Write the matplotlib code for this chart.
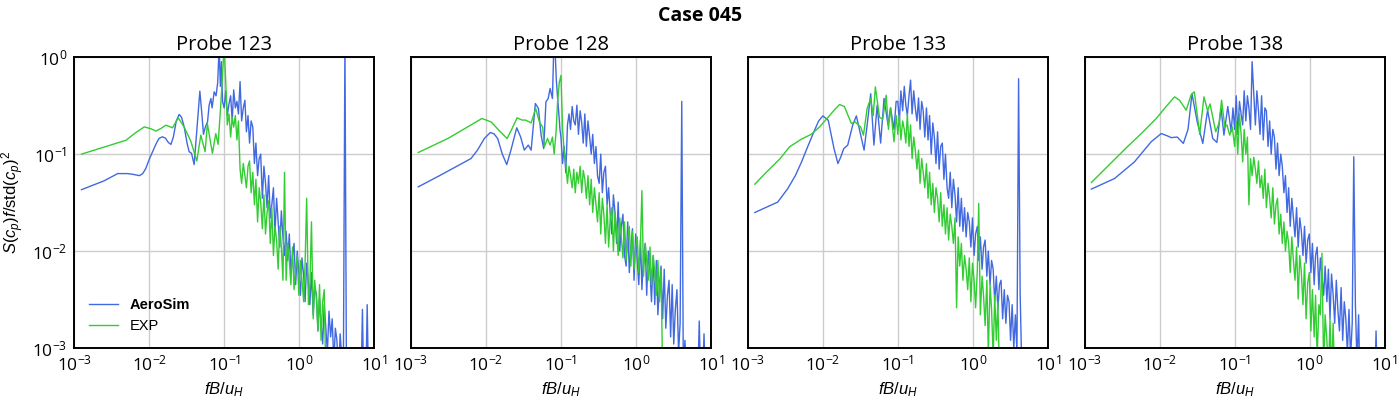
import matplotlib
matplotlib.use('Agg')
import matplotlib.pyplot as plt
from matplotlib.ticker import LogLocator, NullLocator

plt.rcParams['font.family'] = ['Open Sans', 'DejaVu Sans']
plt.rcParams['mathtext.default'] = 'regular'
plt.rcParams['mathtext.fontset'] = 'custom'
plt.rcParams['mathtext.rm'] = 'Liberation Sans'
plt.rcParams['mathtext.it'] = 'Liberation Sans:italic'
plt.rcParams['mathtext.bf'] = 'Liberation Sans:bold'

probes = ['Probe 123', 'Probe 128', 'Probe 133', 'Probe 138']

# shared frequency grid for the noisy (high frequency) part
f_hi = [0.100, 0.105, 0.110, 0.116, 0.122, 0.128, 0.134, 0.141, 0.148, 0.155,
        0.163, 0.171, 0.180, 0.189, 0.198, 0.208, 0.218, 0.229, 0.241, 0.253,
        0.265, 0.279, 0.293, 0.307, 0.323, 0.339, 0.356, 0.373, 0.392, 0.412,
        0.432, 0.454, 0.476, 0.500, 0.525, 0.551, 0.579, 0.608, 0.638, 0.670,
        0.704, 0.739, 0.776, 0.815, 0.855, 0.898, 0.943, 0.990, 1.04, 1.09,
        1.15, 1.20, 1.26, 1.33, 1.39, 1.46, 1.54, 1.61, 1.70, 1.78,
        1.87, 1.96, 2.06, 2.16, 2.27, 2.38, 2.50, 2.63, 2.76, 2.90,
        3.04, 3.19, 3.35, 3.52, 3.70, 3.88, 4.08, 4.28, 4.50, 4.72,
        4.96, 5.20, 5.46, 5.74, 6.02, 6.33, 6.64, 6.98, 7.32, 7.69,
        8.08, 8.48]

# ---- Probe 123
f_sim_123 = [0.00125, 0.0025, 0.0038, 0.0051, 0.006, 0.0074, 0.0082, 0.009, 0.010, 0.0111,
             0.0125, 0.0135, 0.015, 0.0165, 0.018, 0.0195, 0.021, 0.023, 0.0251, 0.027,
             0.0293, 0.032, 0.0341, 0.0367, 0.0398, 0.0474, 0.050, 0.053, 0.056, 0.060,
             0.063, 0.0665, 0.069, 0.0736, 0.078, 0.082, 0.0857, 0.089, 0.092, 0.095]
s_sim_123 = [0.043, 0.053, 0.063, 0.063, 0.062, 0.060, 0.063, 0.071, 0.088, 0.106,
             0.13, 0.145, 0.151, 0.146, 0.132, 0.126, 0.15, 0.22, 0.257, 0.24,
             0.191, 0.13, 0.106, 0.102, 0.078, 0.446, 0.28, 0.16, 0.19, 0.215,
             0.32, 0.375, 0.30, 0.44, 0.40, 0.55, 1.3, 0.5, 0.9, 0.35]
s_sim_hi_123 = [0.30, 0.45, 0.25, 0.33, 0.40, 0.22, 0.46, 0.30, 0.35, 0.26, 0.56, 0.22, 0.30, 0.36, 0.17, 0.25, 0.13, 0.22, 0.19, 0.08,
                0.13, 0.06, 0.09, 0.10, 0.035, 0.075, 0.05, 0.028, 0.060, 0.022, 0.030, 0.045, 0.015, 0.035, 0.020, 0.011, 0.026, 0.014, 0.009, 0.016,
                0.008, 0.015, 0.006, 0.009, 0.012, 0.0045, 0.010, 0.006, 0.0035, 0.0085, 0.0055, 0.003, 0.0075, 0.0045, 0.0028, 0.006, 0.0022, 0.0042, 0.0036, 0.0015,
                0.0032, 0.0018, 0.0011, 0.0028, 0.0016, 0.0009, 0.0024, 0.0013, 0.0020, 0.0007, 0.0016, 0.0012, 0.0005, 0.0014, 0.0008, 0.0004, 1.5, 0.0004, 0.0009, 0.0003,
                0.0003, 0.0003, 0.0003, 0.0003, 0.0003, 0.0003, 0.0003, 0.0025, 0.0003, 0.0003, 0.0028, 0.0003]
f_exp_123 = [0.00125, 0.0049, 0.0065, 0.0086, 0.0105, 0.0123, 0.0145, 0.0167, 0.0205, 0.0244,
             0.0293, 0.0359, 0.0432, 0.0488, 0.0557, 0.0597, 0.0697, 0.0773, 0.083, 0.090]
s_exp_123 = [0.10, 0.139, 0.165, 0.191, 0.183, 0.173, 0.185, 0.199, 0.187, 0.237,
             0.19, 0.136, 0.085, 0.157, 0.106, 0.207, 0.102, 0.163, 0.126, 0.32]
s_exp_hi_123 = [1.3, 0.55, 0.20, 0.26, 0.15, 0.24, 0.19, 0.25, 0.14, 0.22, 0.07, 0.05, 0.08, 0.06, 0.045, 0.075, 0.085, 0.04, 0.065, 0.03,
                0.055, 0.02, 0.045, 0.032, 0.017, 0.038, 0.015, 0.025, 0.033, 0.012, 0.028, 0.009, 0.018, 0.013, 0.0065, 0.018, 0.011, 0.005, 0.065, 0.005,
                0.012, 0.008, 0.0045, 0.011, 0.004, 0.0065, 0.009, 0.0035, 0.008, 0.005, 0.003, 0.0075, 0.035, 0.0028, 0.0045, 0.02, 0.002, 0.005, 0.0032, 0.0015,
                0.0045, 0.0012, 0.003, 0.004, 0.0005]

# ---- Probe 128
f_sim_128 = [0.00125, 0.0025, 0.0063, 0.0077, 0.0095, 0.0114, 0.0128, 0.0143, 0.0165, 0.0189,
             0.0215, 0.0257, 0.029, 0.0324, 0.0366, 0.040, 0.0455, 0.050, 0.0543, 0.0588,
             0.063, 0.0675, 0.0716, 0.0769, 0.080, 0.083, 0.0865, 0.0899, 0.094, 0.097]
s_sim_128 = [0.046, 0.061, 0.090, 0.11, 0.145, 0.167, 0.162, 0.145, 0.10, 0.078,
             0.11, 0.187, 0.15, 0.11, 0.124, 0.11, 0.333, 0.296, 0.157, 0.114,
             0.346, 0.375, 0.476, 0.375, 1.2, 1.3, 0.6, 0.39, 0.25, 0.177]
s_sim_hi_128 = [0.15, 0.08, 0.12, 0.064, 0.20, 0.26, 0.18, 0.31, 0.22, 0.20, 0.32, 0.16, 0.28, 0.21, 0.13, 0.26, 0.12, 0.22, 0.15, 0.10,
                0.16, 0.08, 0.12, 0.06, 0.05, 0.10, 0.04, 0.065, 0.075, 0.03, 0.045, 0.024, 0.015, 0.038, 0.025, 0.012, 0.032, 0.010, 0.018, 0.024,
                0.009, 0.007, 0.020, 0.006, 0.011, 0.017, 0.005, 0.015, 0.008, 0.0045, 0.013, 0.004, 0.009, 0.012, 0.0035, 0.010, 0.006, 0.003, 0.009, 0.0028,
                0.008, 0.0022, 0.0045, 0.007, 0.002, 0.0065, 0.0016, 0.0035, 0.005, 0.0013, 0.0045, 0.0011, 0.0025, 0.004, 0.0009, 0.0018, 0.35, 0.0006, 0.0012, 0.0005,
                0.0004, 0.0004, 0.0004, 0.0004, 0.0004, 0.0004, 0.0004, 0.0019, 0.0004, 0.0004, 0.0014, 0.0004]
f_exp_128 = [0.00125, 0.0031, 0.0057, 0.0088, 0.0117, 0.015, 0.0191, 0.022, 0.026, 0.030,
             0.034, 0.040, 0.046, 0.0515, 0.057, 0.060, 0.066, 0.0716, 0.077, 0.081,
             0.086, 0.090, 0.095]
s_exp_128 = [0.104, 0.145, 0.191, 0.233, 0.215, 0.175, 0.145, 0.18, 0.237, 0.225,
             0.224, 0.21, 0.296, 0.215, 0.19, 0.119, 0.145, 0.124, 0.15, 0.10,
             0.17, 0.346, 0.55]
s_exp_hi_128 = [0.65, 0.18, 0.11, 0.08, 0.05, 0.075, 0.06, 0.045, 0.07, 0.04, 0.065, 0.05, 0.075, 0.04, 0.068, 0.055, 0.035, 0.06, 0.03, 0.055,
                0.025, 0.045, 0.03, 0.02, 0.04, 0.015, 0.035, 0.024, 0.012, 0.03, 0.011, 0.022, 0.028, 0.01, 0.025, 0.016, 0.009, 0.022, 0.014, 0.0085,
                0.02, 0.008, 0.013, 0.018, 0.007, 0.016, 0.0065, 0.011, 0.014, 0.006, 0.013, 0.042, 0.0055, 0.012, 0.008, 0.005, 0.011, 0.0045, 0.009, 0.006,
                0.0035, 0.008, 0.003, 0.0065, 0.0005]

# ---- Probe 133
f_sim_133 = [0.00124, 0.0025, 0.0034, 0.0043, 0.0052, 0.0063, 0.0076, 0.0088, 0.010, 0.0118,
             0.0141, 0.0159, 0.0175, 0.019, 0.0215, 0.025, 0.028, 0.032, 0.0355, 0.039,
             0.0435, 0.048, 0.053, 0.059, 0.0655, 0.069, 0.074, 0.080, 0.089, 0.095]
s_sim_133 = [0.025, 0.032, 0.044, 0.060, 0.083, 0.12, 0.17, 0.22, 0.248, 0.224,
             0.114, 0.08, 0.095, 0.114, 0.124, 0.199, 0.248, 0.157, 0.11, 0.20,
             0.42, 0.124, 0.32, 0.13, 0.375, 0.29, 0.20, 0.30, 0.18, 0.35]
s_sim_hi_133 = [0.35, 0.22, 0.45, 0.28, 0.50, 0.32, 0.25, 0.40, 0.58, 0.26, 0.45, 0.30, 0.22, 0.38, 0.18, 0.35, 0.28, 0.15, 0.30, 0.14,
                0.25, 0.10, 0.21, 0.15, 0.08, 0.17, 0.07, 0.12, 0.13, 0.055, 0.10, 0.045, 0.035, 0.065, 0.028, 0.055, 0.038, 0.02, 0.045, 0.018,
                0.035, 0.016, 0.028, 0.014, 0.025, 0.02, 0.011, 0.022, 0.009, 0.015, 0.018, 0.008, 0.014, 0.0065, 0.011, 0.013, 0.0055, 0.01, 0.0045, 0.008,
                0.0065, 0.003, 0.0055, 0.0025, 0.0045, 0.005, 0.002, 0.004, 0.0018, 0.0035, 0.003, 0.0012, 0.0028, 0.001, 0.0022, 0.0009, 0.6, 0.0037, 0.0006, 0.0003,
                0.0003, 0.0003, 0.0003, 0.0003, 0.0003, 0.0003, 0.0003, 0.0003, 0.0003, 0.0003, 0.0003, 0.0003]
f_exp_133 = [0.00124, 0.0018, 0.0027, 0.0036, 0.0052, 0.007, 0.009, 0.0123, 0.0145, 0.0167,
             0.0194, 0.024, 0.027, 0.032, 0.0348, 0.039, 0.0435, 0.047, 0.0502, 0.057,
             0.063, 0.07, 0.075, 0.08, 0.089, 0.095]
s_exp_133 = [0.049, 0.066, 0.090, 0.119, 0.143, 0.16, 0.19, 0.25, 0.29, 0.325,
             0.31, 0.207, 0.215, 0.19, 0.157, 0.296, 0.375, 0.25, 0.494, 0.24,
             0.23, 0.406, 0.18, 0.30, 0.134, 0.25]
s_exp_hi_133 = [0.16, 0.25, 0.14, 0.22, 0.18, 0.13, 0.26, 0.12, 0.20, 0.09, 0.15, 0.11, 0.07, 0.11, 0.05, 0.09, 0.065, 0.045, 0.08, 0.035,
                0.065, 0.03, 0.05, 0.025, 0.045, 0.035, 0.02, 0.04, 0.018, 0.03, 0.015, 0.028, 0.013, 0.024, 0.018, 0.012, 0.022, 0.0026, 0.014, 0.007,
                0.012, 0.005, 0.009, 0.0065, 0.004, 0.0085, 0.003, 0.0075, 0.005, 0.0026, 0.0065, 0.031, 0.0022, 0.0055, 0.0035, 0.0017, 0.005, 0.0009, 0.0045, 0.0025,
                0.0008, 0.0035, 0.0012, 0.003, 0.0005]

# ---- Probe 138
f_sim_138 = [0.00123, 0.0025, 0.0046, 0.0077, 0.0105, 0.0125, 0.0143, 0.0172, 0.0207, 0.0239,
             0.027, 0.0317, 0.0376, 0.0436, 0.051, 0.058, 0.066, 0.072, 0.081, 0.090, 0.095]
s_sim_138 = [0.0436, 0.056, 0.083, 0.134, 0.163, 0.155, 0.148, 0.15, 0.129, 0.18,
             0.42, 0.215, 0.129, 0.284, 0.145, 0.132, 0.296, 0.157, 0.31, 0.17, 0.30]
s_sim_hi_138 = [0.18, 0.40, 0.16, 0.35, 0.26, 0.20, 0.45, 0.22, 0.40, 0.30, 0.18, 0.90, 0.42, 0.20, 0.45, 0.28, 0.16, 0.40, 0.14, 0.30,
                0.28, 0.12, 0.22, 0.10, 0.18, 0.15, 0.07, 0.13, 0.06, 0.10, 0.075, 0.04, 0.06, 0.025, 0.045, 0.018, 0.035, 0.022, 0.014, 0.028,
                0.011, 0.022, 0.016, 0.009, 0.018, 0.0075, 0.013, 0.015, 0.006, 0.012, 0.0045, 0.009, 0.011, 0.004, 0.0085, 0.0055, 0.0035, 0.007, 0.003, 0.0065,
                0.002, 0.0058, 0.0035, 0.0018, 0.005, 0.0025, 0.0015, 0.0042, 0.0012, 0.003, 0.002, 0.0009, 0.0025, 0.0008, 0.0018, 0.094, 0.0028, 0.0007, 0.0022, 0.0003,
                0.0003, 0.0003, 0.0003, 0.0003, 0.0003, 0.0003, 0.0003, 0.0003, 0.0003, 0.0015, 0.0003, 0.0003]
f_exp_138 = [0.00123, 0.0021, 0.0037, 0.0057, 0.009, 0.0122, 0.0158, 0.0184, 0.0226, 0.0263,
             0.029, 0.0342, 0.039, 0.0436, 0.047, 0.056, 0.062, 0.067, 0.074, 0.079,
             0.086, 0.093]
s_exp_138 = [0.051, 0.077, 0.119, 0.163, 0.233, 0.31, 0.39, 0.36, 0.284, 0.41,
             0.44, 0.16, 0.39, 0.28, 0.33, 0.17, 0.21, 0.36, 0.19, 0.2,
             0.157, 0.19]
s_exp_hi_138 = [0.12, 0.22, 0.10, 0.26, 0.16, 0.083, 0.18, 0.10, 0.15, 0.03, 0.09, 0.06, 0.093, 0.07, 0.05, 0.085, 0.045, 0.06, 0.035, 0.07,
                0.028, 0.05, 0.035, 0.022, 0.045, 0.019, 0.03, 0.035, 0.015, 0.024, 0.012, 0.02, 0.01, 0.016, 0.012, 0.006, 0.014, 0.008, 0.005, 0.011,
                0.0032, 0.009, 0.006, 0.0028, 0.0075, 0.002, 0.0047, 0.006, 0.0015, 0.004, 0.0013, 0.0035, 0.0008, 0.0028, 0.0022, 0.0095, 0.0006, 0.0022, 0.0012, 0.0005,
                0.002, 0.0005, 0.0018, 0.0004, 0.0004]

sim_series = [(f_sim_123, s_sim_123, s_sim_hi_123), (f_sim_128, s_sim_128, s_sim_hi_128),
              (f_sim_133, s_sim_133, s_sim_hi_133), (f_sim_138, s_sim_138, s_sim_hi_138)]
exp_series = [(f_exp_123, s_exp_123, s_exp_hi_123), (f_exp_128, s_exp_128, s_exp_hi_128),
              (f_exp_133, s_exp_133, s_exp_hi_133), (f_exp_138, s_exp_138, s_exp_hi_138)]

fig, axes = plt.subplots(1, 4, figsize=(14, 4), dpi=100, sharey=True)
fig.subplots_adjust(left=0.053, right=0.989, top=0.857, bottom=0.13, wspace=0.123)

for i, ax in enumerate(axes):
    f_lo, s_lo, s_hi = sim_series[i]
    ax.plot(f_lo + f_hi[:len(s_hi)], s_lo + s_hi, color='royalblue', lw=1, label='AeroSim')
    f_lo, s_lo, s_hi = exp_series[i]
    ax.plot(f_lo + f_hi[:len(s_hi)], s_lo + s_hi, color='limegreen', lw=1, label='EXP')

    ax.set_xscale('log')
    ax.set_yscale('log')
    ax.set_xlim(1e-3, 1e1)
    ax.set_ylim(1e-3, 1e0)
    ax.xaxis.set_major_locator(LogLocator(base=10, numticks=10))
    ax.yaxis.set_major_locator(LogLocator(base=10, numticks=10))
    ax.xaxis.set_minor_locator(NullLocator())
    ax.yaxis.set_minor_locator(NullLocator())
    ax.grid(True, color='#cccccc', lw=1)
    ax.set_axisbelow(True)
    ax.tick_params(length=0, labelsize=12.5, pad=5)
    for sp in ax.spines.values():
        sp.set_color('black')
        sp.set_linewidth(1.4)
    ax.set_title(probes[i], fontsize=14.5, pad=5)
    ax.set_xlabel(r'$\mathit{fB/u_H}$', fontsize=12, labelpad=4)

axes[0].set_ylabel(r'$\mathit{S}\mathrm{(}\mathit{c_p}\mathrm{)}\mathit{f}\mathrm{/std(}\mathit{c_p}\mathrm{)^2}$',
                   fontsize=12, labelpad=4)
leg = axes[0].legend(loc='lower left', frameon=False, handlelength=2.0,
                     prop={'family': 'Liberation Sans', 'size': 10.5}, borderaxespad=0.6)
leg.get_texts()[0].set_fontweight('bold')

fig.suptitle('Case 045', fontsize=14, fontweight='bold', y=0.985)

fig.savefig('out.png', dpi=100)
